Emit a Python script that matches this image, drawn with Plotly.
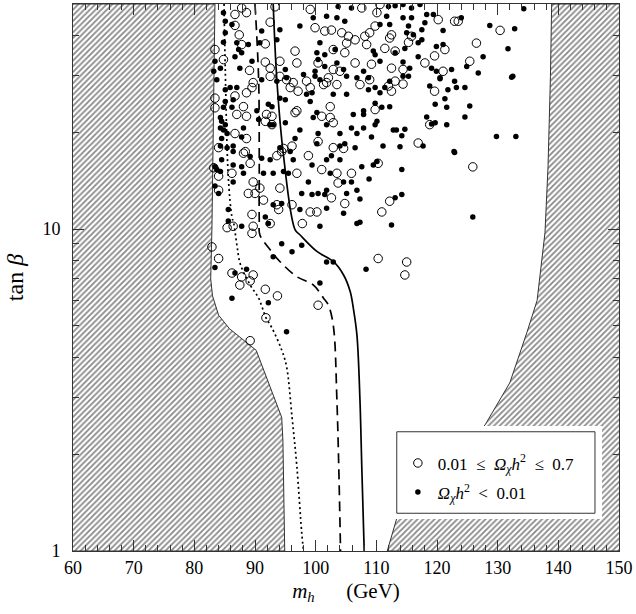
import plotly.graph_objects as go

# ---------------- data ----------------
x_range = [60, 150]
y_range = [1, 50]

# open circles: 0.01 <= Omega h^2 <= 0.7
open_mh = [87.8, 88.6, 86.7, 93.3, 99.1, 92.5, 86.7, 87.4, 91.7, 87.8, 83.4, 84.8, 96.6, 96.9, 94.1,
           91.7, 92.5, 89.1, 99.9, 101.5, 102.6, 104.3, 105.4, 106.5, 105.1, 102.9, 104.8, 106.5, 100.4,
           102.9, 104.0, 94.1,
           107.6, 110.6, 110.1, 120.2, 122.9, 123.5, 130.4, 108.1, 109.8, 108.9, 112.5, 112.2, 108.4,
           111.4, 113.1, 115.8, 115.3, 121.3, 126.5, 119.6, 118.0, 125.4, 112.5, 114.4, 121.0, 109.2,
           83.4, 86.7, 88.6, 89.5, 89.7, 92.5, 95.2, 96.3, 98.5, 95.8, 97.1, 99.1, 101.3, 101.8, 103.5,
           102.1, 88.1, 83.4, 87.0, 88.6, 91.9, 92.8, 91.7, 92.8, 96.9, 96.6, 102.4, 101.0, 102.4, 102.9,
           86.7, 88.6, 88.4, 84.0, 94.7, 96.1, 100.4, 102.9, 104.6, 94.4,
           108.9, 113.1, 112.0, 114.4, 112.5, 119.6, 109.8, 118.8, 116.9, 107.3,
           88.1, 89.2, 83.2, 86.2, 84.0, 93.6, 96.9, 89.7, 90.8, 90.0, 88.9, 94.1, 84.0, 98.8, 101.0,
           103.5, 105.9, 103.7, 102.6, 104.8, 91.4, 93.6, 93.9, 96.1, 99.1, 100.2, 89.5, 97.8, 92.5,
           85.4, 86.4, 89.7,
           110.3, 125.9, 112.2, 110.9,
           89.5, 82.9, 84.0, 86.2, 87.8, 89.7, 89.2, 87.5, 91.7, 93.7, 100.4, 91.8, 89.2,
           110.3, 115.0, 114.7]
open_tanb = [48.6, 47.0, 46.4, 49.0, 48.1, 43.9, 42.9, 40.1, 37.6, 37.4, 36.1, 33.6, 35.7, 32.8, 33.2,
             33.0, 31.6, 31.1, 42.2, 41.2, 41.5, 40.7, 39.7, 38.7, 37.8, 36.1, 35.3, 32.8, 32.8,
             31.3, 30.9, 29.8,
             48.6, 49.8, 47.0, 44.7, 44.2, 44.2, 41.4, 39.7, 42.7, 40.7, 40.1, 39.2, 37.4,
             36.4, 35.7, 39.7, 38.0, 36.1, 37.8, 34.5, 32.8, 33.2, 31.6, 31.3, 30.9, 32.5,
             25.5, 25.9, 26.5, 27.5, 28.5, 29.8, 29.1, 28.5, 28.8, 27.5, 26.8, 27.5, 28.1, 28.5, 28.1,
             29.5, 24.0, 23.8, 22.7, 22.4, 22.7, 22.4, 21.6, 21.1, 23.3, 23.0, 24.0, 22.4, 22.2, 21.4,
             19.8, 19.1, 17.4, 17.9, 17.8, 18.1, 18.7, 17.9, 17.8, 17.4,
             29.1, 28.8, 27.8, 28.2, 26.8, 26.8, 23.5, 21.1, 18.5, 28.1,
             17.2, 16.0, 15.5, 14.9, 14.6, 16.9, 14.9, 14.0, 13.4, 12.9, 12.9, 13.4, 13.2, 16.9, 15.3,
             14.9, 14.9, 13.9, 12.5, 12.0, 12.3, 11.9, 11.5, 11.9, 11.3, 11.3, 11.1, 10.4, 10.4,
             10.1, 10.2, 10.2,
             16.0, 15.6, 12.2, 11.3,
             9.7, 8.8, 8.1, 7.3, 7.1, 7.2, 6.9, 6.7, 6.5, 6.2, 5.8, 5.3, 4.5,
             8.1, 7.9, 7.2]

# filled dots: Omega h^2 < 0.01
filled_mh = [84.8, 85.1, 86.2, 85.1, 84.8, 87.0, 87.3, 87.8, 86.7, 89.5, 88.9, 90.8, 91.1, 93.6, 94.1,
             97.4, 99.6, 101.8, 103.5, 103.7, 105.9, 104.8, 100.7, 100.2, 101.5, 103.2, 101.5, 99.9,
             98.0, 95.0, 95.2, 87.5, 84.3, 83.2, 105.1, 100.4, 103.5, 104.6, 106.8, 83.4,
             112.0, 113.1, 114.4, 115.8, 117.2, 111.7, 114.4, 115.8, 118.3, 119.4, 118.0, 115.3, 117.5,
             121.0, 124.0, 128.7, 132.8, 110.6, 112.2, 115.0, 116.1, 117.5, 116.9, 119.9, 121.0, 114.7,
             113.1, 110.6, 109.5, 109.8, 116.9, 119.1, 119.9, 122.4, 124.9, 127.6, 131.7, 114.4, 115.5,
             126.8, 132.5, 120.5, 114.4, 107.9, 134.3,
             83.7, 85.9, 85.1, 87.0, 91.1, 93.6, 94.1, 95.0, 92.8, 92.2, 90.3, 86.2, 84.8, 85.1, 86.4,
             84.3, 84.5, 85.1, 84.3, 84.8, 85.4, 84.5, 84.3, 85.4, 86.4, 87.8, 88.1, 90.6, 92.5, 93.0,
             95.0, 97.4, 96.6, 100.4, 99.6, 100.2, 99.1, 98.5, 99.4, 99.9, 100.7, 102.9, 105.1, 106.2,
             105.9, 101.8, 104.0, 104.8, 106.5, 106.8, 104.0, 100.2, 95.8, 94.1, 86.4,
             108.7, 109.8, 108.7, 110.6, 111.4, 112.2, 115.3, 118.8, 121.8, 122.9, 123.2, 124.6, 132.3,
             120.5, 109.8, 110.9, 112.2, 107.9, 107.9, 119.7, 121.3, 121.6, 125.4, 124.6, 118.3, 119.1,
             119.7, 110.1, 109.8, 107.9, 109.2, 112.8, 113.3, 114.7, 114.2, 121.6, 111.1, 113.9, 117.7,
             129.8, 133.0, 122.9,
             84.5, 83.4, 83.7, 84.3, 86.4, 87.8, 89.2, 91.1, 92.5, 91.4, 93.0, 94.7, 96.3, 95.5, 98.8,
             99.4, 101.8, 102.6, 104.0, 102.4, 104.6, 105.9, 101.8, 101.5, 100.4, 99.4, 97.7, 105.1,
             106.8, 101.8, 104.6, 106.8, 100.7, 97.4, 94.4, 93.0, 91.7, 87.8, 85.6, 85.6, 86.4, 88.1,
             83.4, 84.0,
             107.6, 109.5, 110.1, 114.2, 108.8, 122.8, 113.1, 114.2, 107.3, 107.3, 112.5, 125.9,
             92.2, 94.4, 96.1, 97.7, 93.0, 101.8, 102.9, 83.4, 86.7, 88.6, 100.7, 86.2, 92.2, 95.2, 108.3]
filled_tanb = [47.0, 44.2, 43.2, 40.7, 38.0, 37.9, 36.1, 35.3, 34.3, 33.2, 37.4, 37.9, 41.2, 38.7, 41.6,
               42.7, 45.3, 45.8, 45.3, 49.1, 48.6, 44.2, 37.9, 35.3, 34.8, 36.1, 32.0, 30.9,
               30.2, 31.3, 29.5, 31.6, 31.6, 30.9, 29.8, 33.6, 32.8, 31.3, 29.5, 33.2,
               49.1, 49.4, 49.8, 48.6, 49.8, 45.8, 45.3, 45.3, 46.4, 46.4, 43.7, 42.7, 41.6,
               41.4, 45.3, 42.9, 41.9, 43.2, 43.2, 40.7, 40.1, 38.7, 37.9, 36.9, 37.4, 36.4,
               35.3, 33.2, 35.7, 34.8, 34.3, 31.6, 30.9, 31.3, 32.0, 34.3, 36.3, 33.0, 31.6,
               30.5, 29.8, 29.5, 29.8, 30.9, 48.3,
               29.1, 27.5, 27.1, 27.5, 29.1, 28.8, 25.5, 25.2, 24.0, 24.4, 23.3, 23.9, 23.9, 24.9, 25.2,
               22.2, 21.6, 21.1, 20.6, 20.3, 19.8, 19.1, 18.1, 17.9, 18.1, 19.3, 20.6, 21.9, 21.1, 21.1,
               21.4, 20.3, 19.1, 19.8, 22.2, 23.0, 24.9, 26.2, 26.5, 29.8, 29.1, 26.2, 26.2, 22.7,
               20.6, 21.1, 18.1, 18.4, 17.9, 19.8, 19.8, 18.4, 17.4, 17.9, 17.4,
               29.5, 27.5, 27.1, 26.5, 27.5, 28.8, 29.8, 27.8, 27.1, 28.8, 27.5, 27.5, 29.6,
               29.3, 24.6, 23.9, 24.0, 23.3, 22.7, 24.4, 25.4, 23.9, 24.1, 22.3, 22.3, 21.2,
               21.4, 21.6, 21.1, 20.6, 19.3, 20.3, 20.3, 20.4, 19.5, 21.1, 18.1, 18.0, 18.1,
               19.4, 19.4, 17.3,
               16.4, 15.6, 15.3, 15.1, 15.8, 15.6, 16.8, 16.6, 16.4, 14.9, 14.9, 15.1, 16.4, 14.9, 14.0,
               15.8, 16.4, 16.9, 16.4, 14.9, 14.0, 14.0, 13.2, 12.8, 12.9, 12.8, 12.9, 12.9,
               13.2, 11.6, 11.2, 10.4, 10.2, 11.5, 12.0, 11.9, 10.9, 10.2, 10.6, 11.5, 14.0, 14.9,
               13.6, 12.9,
               15.6, 15.8, 16.2, 15.3, 14.3, 17.4, 12.5, 12.8, 12.4, 10.5, 10.3, 10.9,
               10.4, 9.0, 8.5, 8.9, 8.2, 7.9, 7.9, 7.6, 7.3, 7.5, 6.8, 6.1, 5.9, 4.8, 7.5]

# contour lines
solid_mh = [93.0, 93.6, 94.7, 96.6, 97.4, 100.2, 102.9, 104.6, 105.7, 106.2, 106.8, 107.3, 107.6, 108.0]
solid_tanb = [50, 29.1, 16.9, 9.96, 9.6, 8.52, 7.93, 7.2, 6.39, 5.69, 4.69, 2.95, 1.83, 1.0]

dashed_mh = [90.0, 90.6, 90.7, 90.7, 90.8, 92.5, 94.1, 96.9, 99.6, 101.3, 102.1, 102.9, 103.5, 104.1]
dashed_tanb = [50, 29.1, 16.4, 10.6, 9.6, 8.62, 7.93, 7.11, 6.71, 6.1, 5.8, 5.03, 2.95, 1.0]

dotted_mh = [84.9, 85.1, 85.6, 86.2, 86.5, 87.0, 87.6, 89.2, 90.6, 91.8, 92.8, 94.4, 95.2, 96.1,
             96.9, 97.7, 98.0]
dotted_tanb = [50, 31.3, 14.5, 10.9, 10.4, 8.96, 7.76, 6.71, 6.1, 5.31, 4.93, 4.21, 3.74, 2.61,
               1.83, 1.14, 1.0]

# excluded (hatched) regions: boundaries from top to bottom
left_edge_mh = [83.4, 82.9, 82.7, 83.0, 84.0, 85.8, 90.2, 94.4, 94.6, 94.9]
left_edge_tanb = [50, 10.0, 7.0, 6.2, 5.4, 4.9, 4.2, 2.6, 2.2, 1.0]
right_edge_mh = [138.9, 138.7, 138.3, 137.8, 136.5, 134.8, 132.0, 127.9, 123.8, 118.8, 115.5, 113.4, 111.8]
right_edge_tanb = [50, 29.8, 15.6, 9.75, 6.0, 4.76, 3.33, 2.46, 2.06, 1.64, 1.41, 1.27, 1.0]

FONT = "Liberation Serif"
hatch = dict(shape="/", size=4, solidity=0.45, fgcolor="#111111", bgcolor="white")

fig = go.Figure()

# left excluded region
fig.add_trace(go.Scatter(
    x=[x_range[0]] + left_edge_mh + [x_range[0]],
    y=[y_range[1]] + left_edge_tanb + [y_range[0]],
    mode="lines", fill="toself", fillcolor="white", fillpattern=hatch,
    line=dict(color="#333333", width=1), showlegend=False, hoverinfo="skip"))
# right excluded region
fig.add_trace(go.Scatter(
    x=[x_range[1]] + right_edge_mh + [x_range[1]],
    y=[y_range[1]] + right_edge_tanb + [y_range[0]],
    mode="lines", fill="toself", fillcolor="white", fillpattern=hatch,
    line=dict(color="#333333", width=1), showlegend=False, hoverinfo="skip"))

# contour lines
fig.add_trace(go.Scatter(x=solid_mh, y=solid_tanb, mode="lines", line_shape="spline",
                         line=dict(color="black", width=1.7), showlegend=False, hoverinfo="skip"))
fig.add_trace(go.Scatter(x=dashed_mh, y=dashed_tanb, mode="lines", line_shape="spline",
                         line=dict(color="black", width=1.7, dash="10px,6px"), showlegend=False,
                         hoverinfo="skip"))
fig.add_trace(go.Scatter(x=dotted_mh, y=dotted_tanb, mode="lines", line_shape="spline",
                         line=dict(color="black", width=1.7, dash="2px,3px"), showlegend=False,
                         hoverinfo="skip"))

# scatter points
fig.add_trace(go.Scatter(
    x=open_mh, y=open_tanb, mode="markers",
    name="0.01\u2002\u2264\u2002<i>\u03a9<sub>\u03c7</sub>h</i><sup>2</sup>\u2002\u2264\u20020.7",
    legendgroup="a",
    marker=dict(symbol="circle-open", size=8.5, color="black", line=dict(width=1, color="black"))))
fig.add_trace(go.Scatter(
    x=filled_mh, y=filled_tanb, mode="markers",
    name="<i>\u03a9<sub>\u03c7</sub>h</i><sup>2</sup>\u2002<\u20020.01",
    legendgroup="b",
    marker=dict(symbol="circle", size=5.5, color="black")))

# legend frame (white patch with border over the hatched area)
fig.add_shape(type="rect", xref="paper", yref="paper", x0=0.582, x1=0.969, y0=0.0585, y1=0.2285,
              fillcolor="white", line=dict(width=0), layer="above")
fig.add_shape(type="rect", xref="paper", yref="paper", x0=0.593, x1=0.956, y0=0.069, y1=0.218,
              fillcolor="rgba(0,0,0,0)", line=dict(color="#333333", width=1), layer="above")

axis_common = dict(showline=True, linecolor="#333333", linewidth=1, mirror="ticks",
                   ticks="inside", ticklen=11, tickwidth=1, tickcolor="#333333",
                   showgrid=False, zeroline=False,
                   tickfont=dict(family=FONT, size=18, color="black"))

fig.update_layout(
    width=636, height=614,
    margin=dict(l=73, r=17, t=4, b=63),
    paper_bgcolor="white", plot_bgcolor="white",
    font=dict(family=FONT, color="black"),
    xaxis=dict(range=x_range, tick0=60, dtick=10,
               minor=dict(dtick=2, ticklen=6, ticks="inside", tickcolor="#333333"),
               title=dict(text="<i>m</i><sub><i>h</i></sub>\u2003\u2002(GeV)",
                          font=dict(family=FONT, size=21), standoff=6),
               **axis_common),
    yaxis=dict(type="log", range=[0, 1.69897], tickmode="array", tickvals=[1, 10],
               ticktext=["1", "10"], ticklabelstandoff=8,
               minor=dict(tickmode="array", tickvals=[2, 3, 4, 5, 6, 7, 8, 9, 20, 30, 40, 50],
                          ticklen=6, ticks="inside", tickcolor="#333333"),
               title=dict(text="tan <i>\u03b2</i>", font=dict(family=FONT, size=24), standoff=12),
               **axis_common),
    legend=dict(x=0.595, y=0.193, xanchor="left", yanchor="top", bgcolor="rgba(0,0,0,0)",
                borderwidth=0, font=dict(family=FONT, size=17), tracegroupgap=4),
)

fig.write_html("out.html", config={"displayModeBar": False},
               post_script="document.body.style.margin='0px';")
